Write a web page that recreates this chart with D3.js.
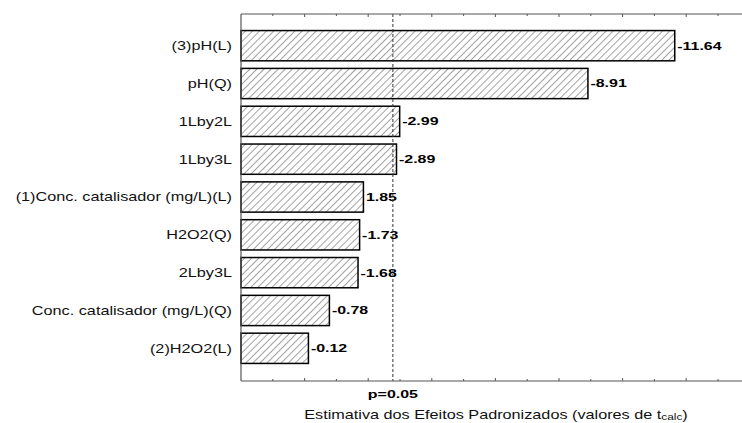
<!DOCTYPE html>
<html>
<head>
<meta charset="utf-8">
<script src="https://cdn.jsdelivr.net/npm/d3@7"></script>
<style>
  html, body { margin: 0; padding: 0; background: #fff; }
  svg { display: block; font-family: "Liberation Sans", Arial, sans-serif; }
</style>
</head>
<body>
<svg id="chart" width="742" height="423"></svg>
<script>
// Pareto chart of standardized effects
const categories = [
  "(3)pH(L)",
  "pH(Q)",
  "1Lby2L",
  "1Lby3L",
  "(1)Conc. catalisador (mg/L)(L)",
  "H2O2(Q)",
  "2Lby3L",
  "Conc. catalisador (mg/L)(Q)",
  "(2)H2O2(L)"
];
const effects = [-11.64, -8.91, -2.99, -2.89, 1.85, -1.73, -1.68, -0.78, -0.12];
const criticalT = 2.776;          // t(0.05) reference line
const refLabel = "p=0.05";
const axisTitle = "Estimativa dos Efeitos Padronizados (valores de t";
const axisTitleSub = "calc";
const tickValues = d3.range(-2, 14);

const svg = d3.select("#chart");
const W = 742;
const plotLeft = 241, plotTop = 14, plotBottom = 381;

// text is drawn with a wide horizontal stretch
const SX_REG = 1.32, SX_BOLD = 1.45;

const x = d3.scaleLinear().domain([-2, 14]).range([plotLeft, plotLeft + 16 * 31.8]);
const y = d3.scaleBand().domain(categories).range([23, 371]).padding(0.2);

// hatch pattern
const defs = svg.append("defs");
const pat = defs.append("pattern")
  .attr("id", "hatch")
  .attr("patternUnits", "userSpaceOnUse")
  .attr("width", 5).attr("height", 5)
  .attr("patternTransform", "rotate(45)");
pat.append("rect").attr("width", 5).attr("height", 5).attr("fill", "#fff");
pat.append("line")
  .attr("x1", 0).attr("y1", 0).attr("x2", 0).attr("y2", 5)
  .attr("stroke", "#333").attr("stroke-width", 0.9);

// bars (absolute effect)
svg.append("g").selectAll("rect")
  .data(effects)
  .join("rect")
  .attr("x", x(-2))
  .attr("y", (d, i) => y(categories[i]))
  .attr("width", d => x(Math.abs(d)) - x(-2))
  .attr("height", y.bandwidth())
  .attr("fill", "url(#hatch)")
  .attr("stroke", "#000")
  .attr("stroke-width", 1.5);

// value labels
svg.append("g").selectAll("text")
  .data(effects)
  .join("text")
  .attr("transform", (d, i) =>
    `translate(${x(Math.abs(d)) + 2.5},${y(categories[i]) + y.bandwidth() / 2}) scale(${SX_BOLD},1)`)
  .attr("dy", "0.36em")
  .attr("font-size", 11)
  .attr("font-weight", "bold")
  .attr("fill", "#000")
  .text(d => d.toFixed(2));

// category labels
svg.append("g").selectAll("text")
  .data(categories)
  .join("text")
  .attr("transform", d => `translate(232,${y(d) + y.bandwidth() / 2}) scale(${SX_REG},1)`)
  .attr("dy", "0.36em")
  .attr("text-anchor", "end")
  .attr("font-size", 12.3)
  .attr("fill", "#111")
  .text(d => d);

// reference line
svg.append("line")
  .attr("x1", x(criticalT)).attr("x2", x(criticalT))
  .attr("y1", plotTop).attr("y2", plotBottom)
  .attr("stroke", "#333").attr("stroke-width", 1)
  .attr("stroke-dasharray", "3,2");

// frame: top, bottom and left lines
const frame = svg.append("g").attr("stroke", "#555").attr("stroke-width", 1.2);
frame.append("line").attr("x1", plotLeft).attr("x2", W).attr("y1", plotTop).attr("y2", plotTop);
frame.append("line").attr("x1", plotLeft).attr("x2", W).attr("y1", plotBottom).attr("y2", plotBottom);
frame.append("line").attr("x1", plotLeft).attr("x2", plotLeft).attr("y1", plotTop).attr("y2", plotBottom);

// inward ticks on top and bottom axes
const tickLen = v => (v % 2 === 0 ? 3 : 2);
const ticks = svg.append("g").attr("stroke", "#555").attr("stroke-width", 1);
ticks.selectAll(".tb").data(tickValues.filter(v => v > -2)).join("line")
  .attr("class", "tb")
  .attr("x1", d => x(d)).attr("x2", d => x(d))
  .attr("y1", plotBottom).attr("y2", d => plotBottom - tickLen(d));
ticks.selectAll(".tt").data(tickValues.filter(v => v > -2)).join("line")
  .attr("class", "tt")
  .attr("x1", d => x(d)).attr("x2", d => x(d))
  .attr("y1", plotTop).attr("y2", d => plotTop + tickLen(d));

// reference label
svg.append("text")
  .attr("transform", `translate(${x(criticalT)},398) scale(${SX_BOLD},1)`)
  .attr("text-anchor", "middle")
  .attr("font-size", 11)
  .attr("font-weight", "bold")
  .text(refLabel);

// axis title with subscript
const t = svg.append("text")
  .attr("transform", `translate(496,418.5) scale(${SX_REG},1)`)
  .attr("text-anchor", "middle")
  .attr("font-size", 12.3)
  .attr("fill", "#111");
t.append("tspan").text(axisTitle);
t.append("tspan").attr("font-size", 9).attr("dy", 1.5).text(axisTitleSub);
t.append("tspan").attr("dy", -1.5).text(")");
</script>
</body>
</html>
